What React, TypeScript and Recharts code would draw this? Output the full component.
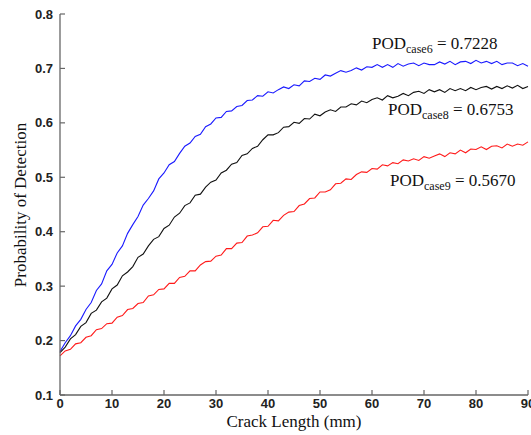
import React from 'react';
import { LineChart, Line, XAxis, YAxis, Customized } from 'recharts';

// crack length in mm
const crackLength = [
  0, 1, 2, 3, 4, 5, 6, 7, 8, 9, 10, 11, 12, 13, 14, 15, 16, 17, 18, 19,
  20, 21, 22, 23, 24, 25, 26, 27, 28, 29, 30, 31, 32, 33, 34, 35, 36, 37, 38, 39,
  40, 41, 42, 43, 44, 45, 46, 47, 48, 49, 50, 51, 52, 53, 54, 55, 56, 57, 58, 59,
  60, 61, 62, 63, 64, 65, 66, 67, 68, 69, 70, 71, 72, 73, 74, 75, 76, 77, 78, 79,
  80, 81, 82, 83, 84, 85, 86, 87, 88, 89, 90,
];

const podCase6 = [
  0.180, 0.196, 0.209, 0.227, 0.239, 0.257, 0.270, 0.292, 0.304, 0.328,
  0.340, 0.361, 0.374, 0.397, 0.413, 0.428, 0.449, 0.461, 0.475, 0.497,
  0.508, 0.523, 0.529, 0.544, 0.557, 0.563, 0.575, 0.579, 0.593, 0.598,
  0.609, 0.610, 0.621, 0.622, 0.630, 0.632, 0.641, 0.642, 0.650, 0.649,
  0.657, 0.655, 0.661, 0.666, 0.663, 0.670, 0.668, 0.677, 0.676, 0.682,
  0.680, 0.688, 0.686, 0.691, 0.696, 0.693, 0.696, 0.701, 0.697, 0.703,
  0.702, 0.707, 0.702, 0.707, 0.702, 0.709, 0.704, 0.708, 0.710, 0.705,
  0.710, 0.707, 0.707, 0.712, 0.708, 0.713, 0.707, 0.712, 0.713, 0.709,
  0.715, 0.710, 0.713, 0.709, 0.713, 0.707, 0.710, 0.710, 0.705, 0.709,
  0.704,
];

const podCase8 = [
  0.178, 0.188, 0.203, 0.211, 0.226, 0.233, 0.250, 0.256, 0.271, 0.278,
  0.295, 0.302, 0.319, 0.326, 0.336, 0.353, 0.359, 0.374, 0.386, 0.391,
  0.406, 0.412, 0.427, 0.434, 0.448, 0.453, 0.467, 0.469, 0.482, 0.491,
  0.495, 0.508, 0.513, 0.524, 0.527, 0.540, 0.543, 0.553, 0.557, 0.569,
  0.578, 0.578, 0.582, 0.592, 0.593, 0.601, 0.599, 0.608, 0.607, 0.616,
  0.613, 0.620, 0.624, 0.621, 0.629, 0.629, 0.635, 0.633, 0.640, 0.637,
  0.643, 0.646, 0.642, 0.650, 0.646, 0.649, 0.654, 0.650, 0.656, 0.658,
  0.654, 0.661, 0.657, 0.661, 0.656, 0.663, 0.659, 0.663, 0.659, 0.665,
  0.661, 0.665, 0.667, 0.662, 0.667, 0.663, 0.668, 0.664, 0.669, 0.663,
  0.667,
];

const podCase9 = [
  0.172, 0.181, 0.184, 0.194, 0.196, 0.206, 0.209, 0.220, 0.222, 0.231,
  0.232, 0.243, 0.246, 0.257, 0.259, 0.268, 0.270, 0.282, 0.284, 0.294,
  0.295, 0.305, 0.305, 0.316, 0.318, 0.328, 0.328, 0.339, 0.345, 0.346,
  0.355, 0.357, 0.369, 0.369, 0.379, 0.380, 0.392, 0.394, 0.398, 0.409,
  0.410, 0.421, 0.420, 0.430, 0.436, 0.437, 0.448, 0.451, 0.461, 0.462,
  0.473, 0.473, 0.477, 0.488, 0.489, 0.497, 0.496, 0.505, 0.510, 0.509,
  0.516, 0.515, 0.523, 0.521, 0.527, 0.525, 0.532, 0.530, 0.534, 0.531,
  0.538, 0.535, 0.539, 0.543, 0.538, 0.545, 0.543, 0.550, 0.545, 0.552,
  0.551, 0.556, 0.551, 0.557, 0.558, 0.554, 0.561, 0.557, 0.561, 0.559,
  0.565,
];

const xTicks = [0, 10, 20, 30, 40, 50, 60, 70, 80, 90];
const yTicks = [0.1, 0.2, 0.3, 0.4, 0.5, 0.6, 0.7, 0.8];

const annotations = [
  { sub: 'case6', value: '0.7228', x: 372, y: 49 },
  { sub: 'case8', value: '0.6753', x: 388, y: 115 },
  { sub: 'case9', value: '0.5670', x: 390, y: 186 },
];

const data = crackLength.map((x, i) => ({
  x,
  case6: podCase6[i],
  case8: podCase8[i],
  case9: podCase9[i],
}));

const frame = '#666';
const tickLen = 5;
const sansBold = { fontFamily: 'Liberation Sans, Arial, sans-serif', fontSize: 13, fontWeight: 700, fill: '#222' };
const serif = 'Liberation Serif, Times New Roman, serif';

// matlab style: tick marks point into the plot box
function BottomTick({ x, y, payload }: any) {
  return (
    <g>
      <line x1={x} x2={x} y1={y} y2={y - tickLen} stroke={frame} strokeWidth={1.2} />
      <text x={x} y={y + 4} dy="0.71em" textAnchor="middle" {...sansBold}>{payload.value}</text>
    </g>
  );
}

function LeftTick({ x, y, payload }: any) {
  return (
    <g>
      <line x1={x} x2={x + tickLen} y1={y} y2={y} stroke={frame} strokeWidth={1.2} />
      <text x={x - 7} y={y} dy="0.355em" textAnchor="end" {...sansBold}>{payload.value.toFixed(1)}</text>
    </g>
  );
}

function TopTick({ x, y }: any) {
  return <line x1={x} x2={x} y1={y} y2={y + tickLen} stroke={frame} strokeWidth={1.2} />;
}

function RightTick({ x, y }: any) {
  return <line x1={x} x2={x - tickLen} y1={y} y2={y} stroke={frame} strokeWidth={1.2} />;
}

function Texts() {
  return (
    <g fontFamily={serif} fill="#111">
      <text x={294} y={427} fontSize={17} textAnchor="middle">Crack Length (mm)</text>
      <text
        x={20}
        y={205}
        fontSize={17}
        textAnchor="middle"
        dominantBaseline="central"
        transform="rotate(-90 20 205)"
      >
        Probability of Detection
      </text>
      {annotations.map(a => (
        <text key={a.sub} x={a.x} y={a.y} fontSize={17}>
          POD
          <tspan fontSize={12} dy={4}>{a.sub}</tspan>
          <tspan dy={-4}>{' = ' + a.value}</tspan>
        </text>
      ))}
    </g>
  );
}

export default function App() {
  return (
    <div style={{ position: 'absolute', left: 0, top: 0, width: 531, height: 435, background: '#fff' }}>
      <LineChart width={531} height={435} data={data} margin={{ top: 14, right: 3, left: 0, bottom: 10 }}>
        <XAxis
          dataKey="x"
          type="number"
          domain={[0, 90]}
          ticks={xTicks}
          height={30}
          stroke={frame}
          strokeWidth={1.3}
          tickSize={0}
          tickMargin={0}
          tickLine={false}
          tick={<BottomTick />}
          interval={0}
        />
        <XAxis
          xAxisId="top"
          dataKey="x"
          type="number"
          orientation="top"
          domain={[0, 90]}
          ticks={xTicks}
          height={0}
          stroke={frame}
          strokeWidth={1.3}
          tickSize={0}
          tickMargin={0}
          tickLine={false}
          tick={<TopTick />}
          interval={0}
        />
        <YAxis
          type="number"
          domain={[0.1, 0.8]}
          ticks={yTicks}
          width={60}
          stroke={frame}
          strokeWidth={1.3}
          tickSize={0}
          tickMargin={0}
          tickLine={false}
          tick={<LeftTick />}
          interval={0}
        />
        <YAxis
          yAxisId="right"
          type="number"
          orientation="right"
          domain={[0.1, 0.8]}
          ticks={yTicks}
          width={0}
          stroke={frame}
          strokeWidth={1.3}
          tickSize={0}
          tickMargin={0}
          tickLine={false}
          tick={<RightTick />}
          interval={0}
        />
        <Line dataKey="case6" stroke="#1a1aff" strokeWidth={1.1} dot={false} isAnimationActive={false} />
        <Line dataKey="case8" stroke="#111" strokeWidth={1.1} dot={false} isAnimationActive={false} />
        <Line dataKey="case9" stroke="#ff1a1a" strokeWidth={1.1} dot={false} isAnimationActive={false} />
        <Customized component={Texts} />
      </LineChart>
    </div>
  );
}
